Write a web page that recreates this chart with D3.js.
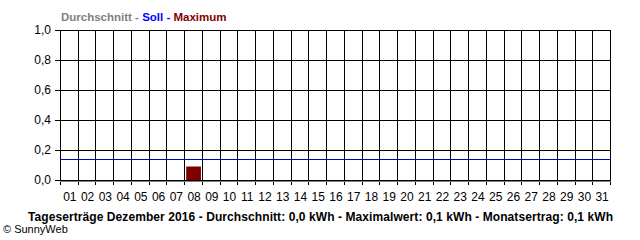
<!DOCTYPE html>
<html>
<head>
<meta charset="utf-8">
<script src="https://cdn.jsdelivr.net/npm/d3@7"></script>
<style>
  body { margin: 0; background: #fff; }
  svg { display: block; font-family: "Liberation Sans", Arial, sans-serif; }
</style>
</head>
<body>
<svg id="chart" width="640" height="240"></svg>
<script>
// chart data
const days = d3.range(1, 32).map(d => d3.format('02')(d))
const maximum = days.map(d => d === '08' ? 0.09 : 0)
const soll = 0.138
const yTicks = [0, 0.2, 0.4, 0.6, 0.8, 1.0]
const legendParts = [
  {text: 'Durchschnitt - ', color: '#808080'},
  {text: 'Soll - ', color: '#0000ff'},
  {text: 'Maximum', color: '#800000'},
]
const footer = 'Tageserträge Dezember 2016 - Durchschnitt: 0,0 kWh - Maximalwert: 0,1 kWh - Monatsertrag: 0,1 kWh'
const credit = '© SunnyWeb'

const margin = {top: 30, left: 60, right: 30, bottom: 60}
const width = 640, height = 240
const innerW = width - margin.left - margin.right
const innerH = height - margin.top - margin.bottom

const svg = d3.select('#chart')
const g = svg.append('g').attr('transform', `translate(${margin.left},${margin.top})`)

const x = d3.scaleBand().domain(days).range([0, innerW]).paddingInner(0).paddingOuter(0)
const y = d3.scaleLinear().domain([0, 1]).range([innerH, 0])
const fmt = v => d3.format('.1f')(v).replace('.', ',')

// vertical grid lines (column borders), incl. ticks below the axis
const edges = days.map(d => x(d)).concat([innerW])
g.selectAll('.vgrid').data(edges).join('line')
  .attr('class', 'vgrid')
  .attr('x1', d => Math.round(d) + 0.5).attr('x2', d => Math.round(d) + 0.5)
  .attr('y1', 0).attr('y2', innerH + 5)
  .attr('stroke', '#000').attr('shape-rendering', 'crispEdges')

// horizontal grid lines
g.selectAll('.hgrid').data(yTicks).join('line')
  .attr('class', 'hgrid')
  .attr('x1', -5).attr('x2', innerW + 1)
  .attr('y1', d => Math.round(y(d)) + 0.5).attr('y2', d => Math.round(y(d)) + 0.5)
  .attr('stroke', '#000').attr('shape-rendering', 'crispEdges')

// y labels
g.selectAll('.ylab').data(yTicks).join('text')
  .attr('class', 'ylab')
  .attr('x', -9).attr('y', d => y(d) + 4)
  .attr('text-anchor', 'end').attr('font-size', 12)
  .text(fmt)

// soll line
g.append('line')
  .attr('x1', 0).attr('x2', innerW)
  .attr('y1', Math.round(y(soll)) + 0.5).attr('y2', Math.round(y(soll)) + 0.5)
  .attr('stroke', '#0000cc').attr('shape-rendering', 'crispEdges')

// maximum bars
g.selectAll('.bar').data(days.map((d, i) => ({day: d, v: maximum[i]})).filter(d => d.v > 0)).join('rect')
  .attr('class', 'bar')
  .attr('x', d => x(d.day) + 2).attr('width', x.bandwidth() - 3)
  .attr('y', d => y(d.v)).attr('height', d => innerH - y(d.v))
  .attr('fill', '#800000')

// x axis baseline (thick, with grey underline)
g.append('line')
  .attr('x1', 0).attr('x2', innerW + 1)
  .attr('y1', innerH + 1.5).attr('y2', innerH + 1.5)
  .attr('stroke', '#808080').attr('shape-rendering', 'crispEdges')

// x labels
g.selectAll('.xlab').data(days).join('text')
  .attr('class', 'xlab')
  .attr('x', d => x(d) + x.bandwidth() / 2 + 1).attr('y', innerH + 21)
  .attr('text-anchor', 'middle').attr('font-size', 12)
  .text(d => d)

// legend title
const title = svg.append('text').attr('x', 61).attr('y', 21)
  .attr('font-size', 11.5).attr('font-weight', 'bold')
title.selectAll('tspan').data(legendParts).join('tspan')
  .attr('fill', d => d.color).style('white-space', 'pre')
  .text(d => d.text)

// footer
svg.append('text').attr('x', 28).attr('y', 221)
  .attr('font-size', 12).attr('font-weight', 'bold')
  .attr('textLength', 585).attr('lengthAdjust', 'spacing')
  .text(footer)

svg.append('text').attr('x', 3).attr('y', 233)
  .attr('font-size', 11)
  .text(credit)
</script>
</body>
</html>
